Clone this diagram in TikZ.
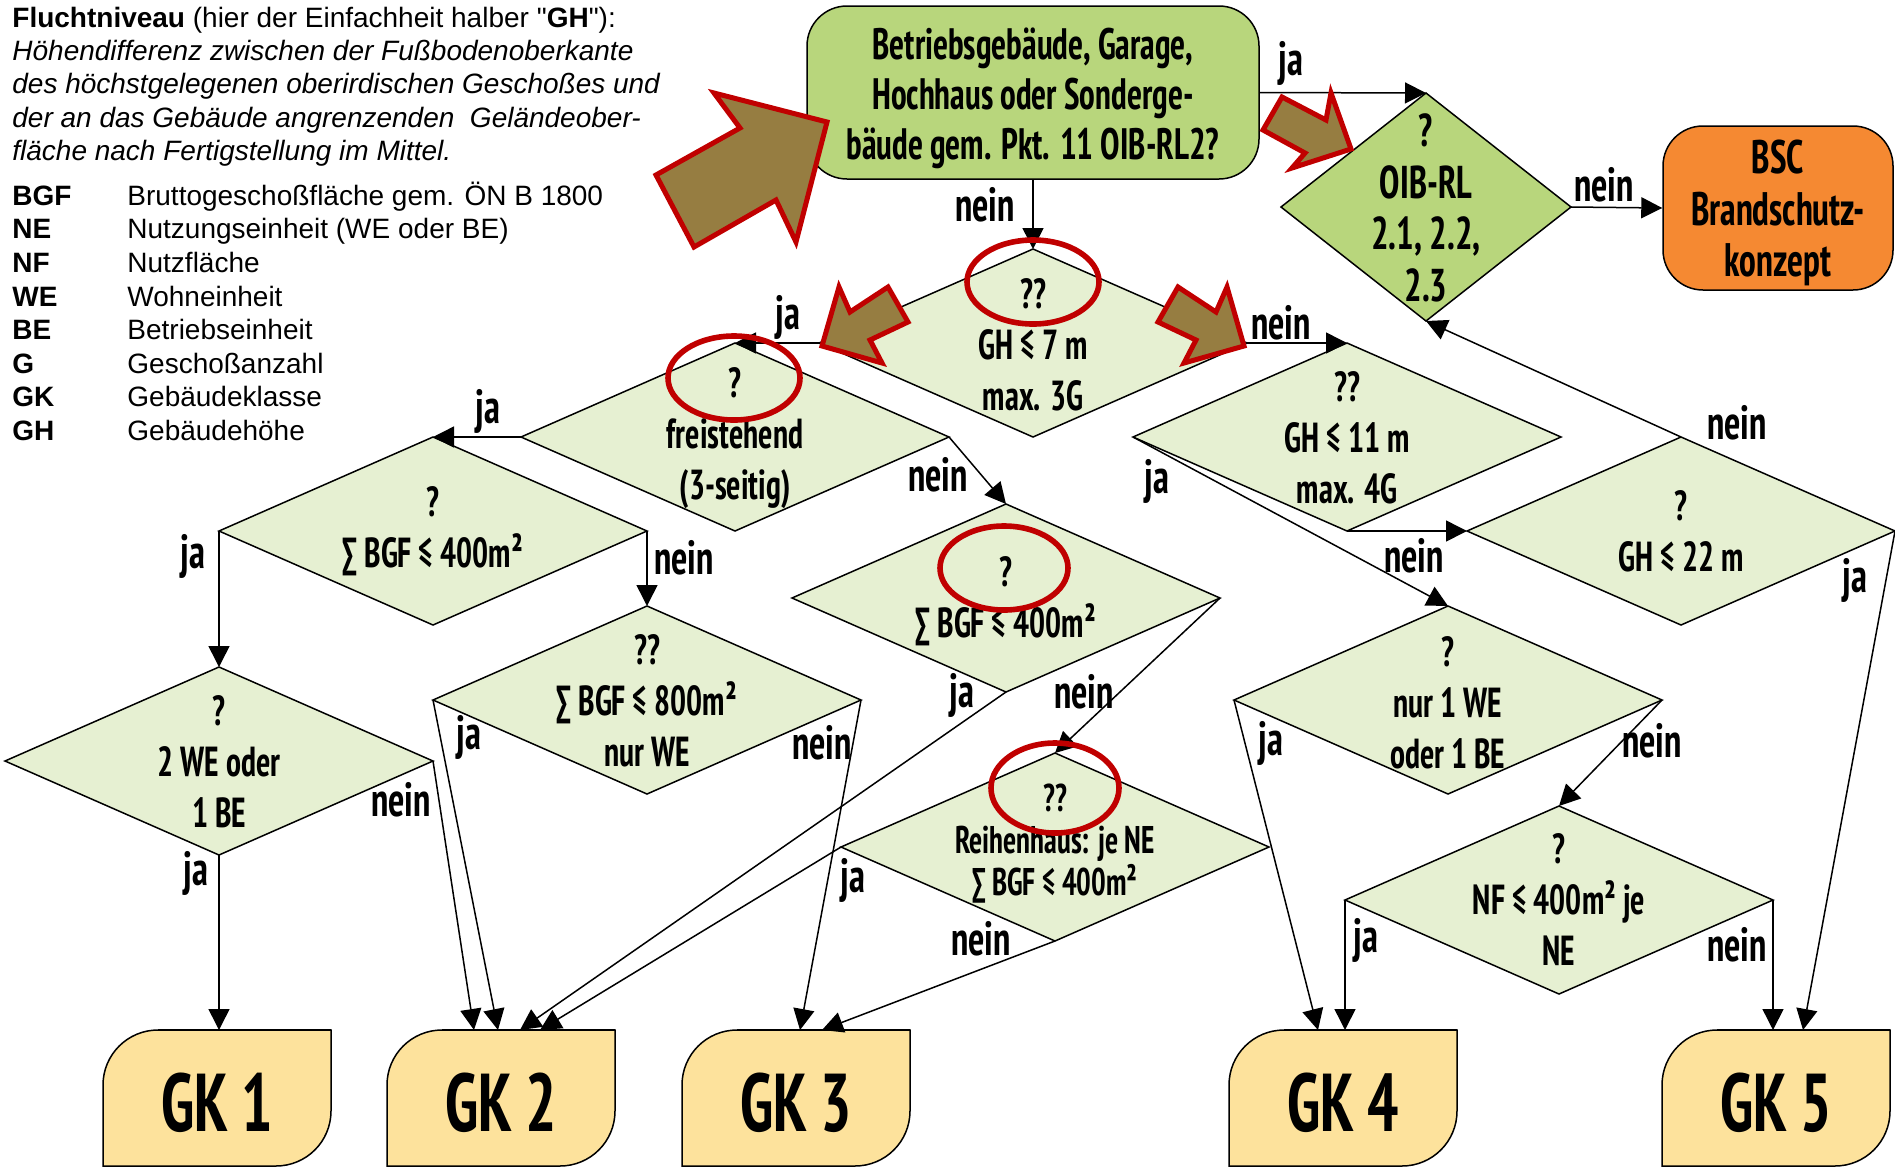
\documentclass[tikz,border=0pt]{standalone}
\usepackage{fontspec}
\setmainfont{Liberation Sans}
\newfontfamily\din[FakeStretch=0.8]{PT Sans Narrow}
\usetikzlibrary{shapes.geometric,arrows.meta,backgrounds,calc}
\definecolor{diac}{RGB}{230,240,210}
\definecolor{lgreen}{RGB}{184,214,124}
\definecolor{orangec}{RGB}{245,137,50}
\definecolor{gkc}{RGB}{253,226,156}
\definecolor{brownc}{RGB}{150,125,65}
\definecolor{redc}{RGB}{192,0,0}
\newcommand\strq{{\XeTeXglyph\XeTeXglyphindex "quotedbl"\relax}}
\begin{document}
\begin{tikzpicture}[x=0.5pt,y=-0.5pt,
  dstyle/.style={diamond, draw=black, line width=0.75pt, fill=diac, inner sep=0pt, outer sep=0pt, minimum width=214pt, minimum height=94pt},
  dtext/.style={font=\din\bfseries\fontsize{21}{25.5}\selectfont, align=center, inner sep=0pt},
  lab/.style={font=\din\bfseries\fontsize{24}{24}\selectfont, inner sep=0pt},
  conn/.style={draw=black, line width=0.75pt, -{Triangle[length=10.5pt,width=10.5pt]}},
  leg/.style={anchor=base west, inner sep=0pt, font=\fontsize{14}{17}\selectfont},
  legi/.style={anchor=base west, inner sep=0pt, font=\fontsize{14}{17}\selectfont\itshape},
  legb/.style={anchor=base west, inner sep=0pt, font=\fontsize{14}{17}\selectfont\bfseries},
  gkbase/.style={rectangle, inner sep=0pt, outer sep=0pt, minimum width=114pt, minimum height=68pt},
  gktext/.style={inner sep=0pt, font=\din\bfseries\fontsize{41}{41}\selectfont},
  gkshape/.style={draw=black, line width=0.75pt, fill=gkc},
  barrow/.style={draw=redc, fill=brownc, line width=2.5pt, line join=miter},
  redcirc/.style={ellipse, draw=redc, line width=2.8pt, inner sep=0pt, minimum width=66pt, minimum height=42pt}
]
\useasboundingbox (0,0) rectangle (1895,1168);

% ---------- legend ----------
\node[leg] (p1) at (12,27) {\textbf{Fluchtniveau} (hier der Einfachheit halber \strq\textbf{GH}\strq):};
\node[legi] (p2) at (12,60) {Höhendifferenz zwischen der Fußbodenoberkante};
\node[legi] (p3) at (12,93) {des höchstgelegenen oberirdischen Geschoßes und};
\node[legi] (p4) at (12,127) {der an das Gebäude angrenzenden\ \ Geländeober-};
\node[legi] (p5) at (12,160) {fläche nach Fertigstellung im Mittel.};
\foreach \ab/\tx/\yy [count=\i] in {BGF/Bruttogeschoßfläche gem. ÖN B 1800/205,
  NE/Nutzungseinheit (WE oder BE)/238, NF/Nutzfläche/272, WE/Wohneinheit/306,
  BE/Betriebseinheit/339, G/Geschoßanzahl/373, GK/Gebäudeklasse/406, GH/Gebäudehöhe/440}{
  \node[legb] (ab\i) at (12,\yy) {\ab};
  \node[leg] (tx\i) at (127,\yy) {\tx};
}

% ---------- top boxes ----------
\node[rectangle, rounded corners=20pt, draw=black, line width=0.75pt, fill=lgreen,
  minimum width=226pt, minimum height=86.5pt, inner sep=0pt] (top) at (1033,92.5) {};
\node[dtext, font=\din\bfseries\fontsize{22}{25}\selectfont] (topt) at (1033,98)
  {Betriebsgebäude, Garage,\\Hochhaus oder Sonderge-\\bäude gem. Pkt. 11 OIB-RL2?};
\node[rectangle, rounded corners=20pt, draw=black, line width=0.75pt, fill=orangec,
  minimum width=115pt, minimum height=82pt, inner sep=0pt] (BSC) at (1778,208) {};
\node[dtext, font=\din\bfseries\fontsize{23.5}{25.7}\selectfont] (BSCt) at (1778,213)
  {BSC\\Brandschutz-\\konzept};
\node[dstyle, fill=lgreen, minimum width=145pt, minimum height=114pt] (OIB) at (1426,207) {};
\node[dtext, font=\din\bfseries\fontsize{23}{25.8}\selectfont] (OIBt) at (1426,208) {?\\OIB-RL\\2.1, 2.2,\\2.3};

% ---------- diamonds ----------
\node[dstyle] (A) at (1033,343) {};
\node[dstyle] (B) at (735,437) {};
\node[dstyle] (C) at (1347,437) {};
\node[dstyle] (D) at (433,531) {};
\node[dstyle] (E) at (1006,598) {};
\node[dstyle] (F) at (1681,531) {};
\node[dstyle] (G) at (1448,700) {};
\node[dstyle] (H) at (219,761) {};
\node[dstyle] (I) at (647,700) {};
\node[dstyle] (J) at (1055,847) {};
\node[dstyle] (K) at (1559,900) {};

\node[dtext] (At) at (1033,345) {??\\GH ≤ 7 m\\max. 3G};
\node[dtext] (Bt) at (735,438) {?\\freistehend\\(3-seitig)};
\node[dtext] (Ct) at (1347,438) {??\\GH ≤ 11 m\\max. 4G};
\node[dtext] (Dt) at (433,531) {?\\∑ BGF ≤ 400m²};
\node[dtext] (Et) at (1006,601) {?\\∑ BGF ≤ 400m²};
\node[dtext] (Ft) at (1681,531) {?\\GH ≤ 22 m};
\node[dtext] (Gt) at (1448,703) {?\\nur 1 WE\\oder 1 BE};
\node[dtext] (Ht) at (219,762) {?\\2 WE oder\\1 BE};
\node[dtext] (It) at (647,701) {??\\∑ BGF ≤ 800m²\\nur WE};
\node[dtext, font=\din\bfseries\fontsize{19.3}{21}\selectfont] (Jt) at (1055,844) {??\\Reihenhaus: je NE\\∑ BGF ≤ 400m²};
\node[dtext] (Kt) at (1559,900) {?\\NF ≤ 400m² je\\NE};

% ---------- GK boxes ----------
\node[gkbase] (GK1) at (217,1098) {};
\node[gkbase] (GK2) at (501,1098) {};
\node[gkbase] (GK3) at (796,1098) {};
\node[gkbase] (GK4) at (1343,1098) {};
\node[gkbase] (GK5) at (1776,1098) {};
\begin{scope}[on background layer]
\foreach \g in {GK1,GK2,GK3,GK4,GK5}{
  \draw[gkshape] (\g.south west) -- ([yshift=-27.5pt]\g.north west)
    arc[start angle=180,end angle=90,radius=27.5pt] -- (\g.north east)
    -- ([yshift=27.5pt]\g.south east)
    arc[start angle=0,end angle=-90,radius=27.5pt] -- cycle;
  \draw[line width=1.4pt] ([xshift=27.5pt]\g.north west) -- (\g.north east);
}
\end{scope}
\node[gktext] (GK1t) at (217,1103) {GK 1};
\node[gktext] (GK2t) at (501,1103) {GK 2};
\node[gktext] (GK3t) at (796,1103) {GK 3};
\node[gktext] (GK4t) at (1343,1103) {GK 4};
\node[gktext] (GK5t) at (1776,1103) {GK 5};

\coordinate (g1) at (219,1030);
\coordinate (g2a) at (474,1030);
\coordinate (g2b) at (498,1030);
\coordinate (g2c) at (520,1030);
\coordinate (g2d) at (540,1030);
\coordinate (g3a) at (800,1030);
\coordinate (g3b) at (822,1030);
\coordinate (g4a) at (1318,1030);
\coordinate (g4b) at (1345,1030);
\coordinate (g5a) at (1773,1030);
\coordinate (g5b) at (1803,1030);

% ---------- connectors ----------
\draw[conn] (top.south) -- (A.north);
\draw[conn] (top.east) -- (OIB.north);
\draw[conn] (OIB.east) -- (BSC.west);
\draw[conn] (A.west) -- (B.north);
\draw[conn] (A.east) -- (C.north);
\draw[conn] (B.west) -- (D.north);
\draw[conn] (B.east) -- (E.north);
\draw[conn] (C.south) -- (F.west);
\draw[conn] (C.west) -- (G.north);
\draw[conn] (F.north) -- (OIB.south);
\draw[conn] (D.west) -- (H.north);
\draw[conn] (D.east) -- (I.north);
\draw[conn] (E.east) -- (J.north);
\draw[conn] (G.east) -- (K.north);
\draw[conn] (H.south) -- (g1);
\draw[conn] (H.east) -- (g2a);
\draw[conn] (I.west) -- (g2b);
\draw[conn] (E.south) -- (g2c);
\draw[conn] (J.west) -- (g2d);
\draw[conn] (I.east) -- (g3a);
\draw[conn] (J.south) -- (g3b);
\draw[conn] (G.west) -- (g4a);
\draw[conn] (K.west) -- (g4b);
\draw[conn] (K.east) -- (g5a);
\draw[conn] (F.east) -- (g5b);

% ---------- labels ----------
\node[lab] (l1) at (1291,63) {ja};
\node[lab] (l2) at (985,205) {nein};
\node[lab] (l3) at (1604,185) {nein};
\node[lab] (l4) at (788,317) {ja};
\node[lab] (l5) at (1281,323) {nein};
\node[lab] (l6) at (488,411) {ja};
\node[lab] (l7) at (938,475) {nein};
\node[lab] (l8) at (1157,481) {ja};
\node[lab] (l9) at (1414,556) {nein};
\node[lab] (l10) at (1737,423) {nein};
\node[lab] (l11) at (193,556) {ja};
\node[lab] (l12) at (684,558) {nein};
\node[lab] (l13) at (1855,580) {ja};
\node[lab] (l14) at (962,695) {ja};
\node[lab] (l15) at (1084,692) {nein};
\node[lab] (l16) at (1271,743) {ja};
\node[lab] (l17) at (1652,741) {nein};
\node[lab] (l18) at (469,737) {ja};
\node[lab] (l19) at (822,743) {nein};
\node[lab] (l20) at (401,800) {nein};
\node[lab] (l21) at (196,873) {ja};
\node[lab] (l22) at (853,880) {ja};
\node[lab] (l23) at (981,939) {nein};
\node[lab] (l24) at (1366,940) {ja};
\node[lab] (l25) at (1737,945) {nein};

% ---------- red circles ----------
\node[redcirc] (r1) at (1033,282) {};
\node[redcirc] (r2) at (734,378) {};
\node[redcirc, minimum width=64pt] (r3) at (1004,568) {};
\node[redcirc, minimum width=64pt, minimum height=45pt] (r4) at (1055,788) {};

% ---------- block arrows ----------
\draw[barrow] (827,122) -- (714,93) -- (740,128) -- (656,175) -- (694,247) -- (776,200) -- (796,242) -- cycle;
\draw[barrow] (1351,149) -- (1331,93) -- (1326,120) -- (1282,97) -- (1263,130) -- (1305,153) -- (1292,168) -- cycle;
\draw[barrow] (822,346) -- (839,287) -- (850,312) -- (888,287) -- (908,322) -- (870,340) -- (882,363) -- cycle;
\draw[barrow] (1244,346) -- (1227,287) -- (1216,312) -- (1178,287) -- (1158,322) -- (1196,340) -- (1184,363) -- cycle;
\end{tikzpicture}
\end{document}
